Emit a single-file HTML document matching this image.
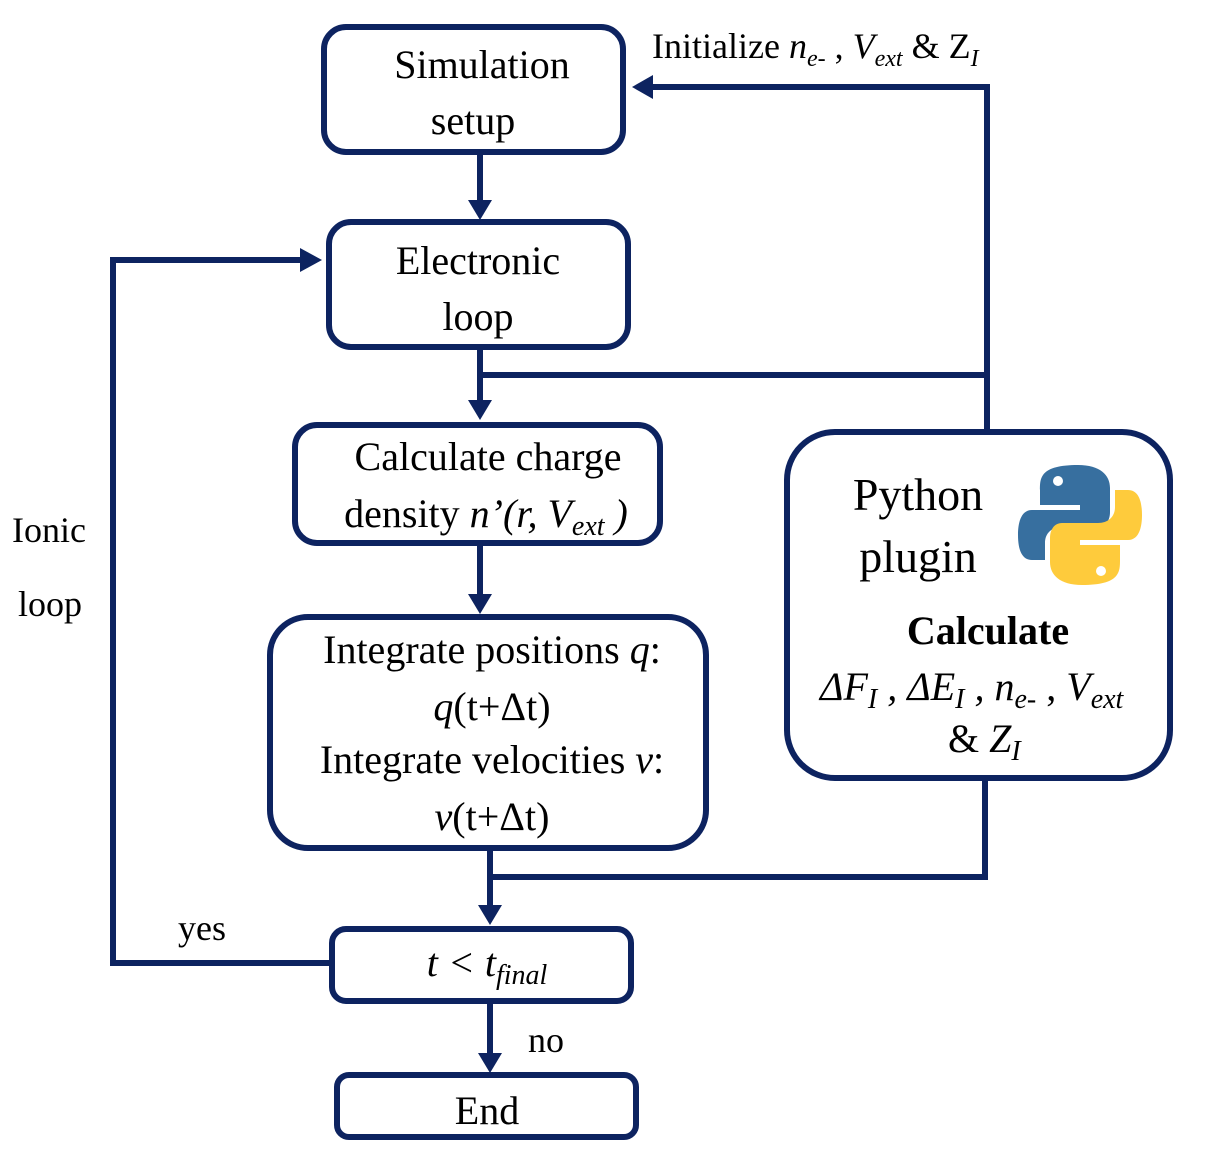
<!DOCTYPE html>
<html><head><style>
html,body{margin:0;padding:0;background:#fff;}
svg{display:block;}
svg text{font-family:'Liberation Serif','Times New Roman',Times,serif;fill:#000;}
</style></head><body>
<svg width="1210" height="1170" viewBox="0 0 1210 1170" xmlns="http://www.w3.org/2000/svg" font-family="Liberation Serif, Times New Roman, serif">
<g fill="none" stroke="#0d2360" stroke-width="6">
<rect x="324" y="27" width="299" height="125" rx="22"/>
<rect x="329" y="222" width="299" height="125" rx="22"/>
<rect x="295" y="425" width="365" height="118" rx="22"/>
<rect x="270" y="617" width="436" height="231" rx="38"/>
<rect x="332" y="929" width="299" height="72" rx="14"/>
<rect x="337" y="1075" width="299" height="62" rx="12"/>
<rect x="787" y="432" width="383" height="346" rx="48"/>
<polyline points="480,153 480,205"/>
<polyline points="480,348 480,405"/>
<polyline points="480,375 987,375"/>
<polyline points="987,430 987,87 650,87"/>
<polyline points="480,545 480,598"/>
<polyline points="490,850 490,910"/>
<polyline points="490,877 985,877 985,780"/>
<polyline points="330,963 113,963 113,260 305,260"/>
<polyline points="490,1002 490,1058"/>
</g>
<g fill="#0d2360">
<polygon points="468,200 492,200 480,220"/>
<polygon points="468,400 492,400 480,420"/>
<polygon points="468,594 492,594 480,614"/>
<polygon points="478,905 502,905 490,925"/>
<polygon points="478,1053 502,1053 490,1073"/>
<polygon points="300,248 300,272 322,260"/>
<polygon points="653,75 653,99 632,87"/>
</g>
<g font-size="40" text-anchor="middle">
<text x="482" y="78">Simulation</text>
<text x="473" y="134">setup</text>
<text x="478" y="274">Electronic</text>
<text x="478" y="330">loop</text>
<text x="488" y="470">Calculate charge</text>
<text x="486" y="527">density <tspan font-style="italic">n’(r, V</tspan><tspan font-style="italic" font-size="28" dy="8">ext</tspan><tspan dy="-8" font-style="italic"> )</tspan></text>
<text x="492" y="663">Integrate positions <tspan font-style="italic">q</tspan>:</text>
<text x="492" y="720"><tspan font-style="italic">q</tspan>(t+Δt)</text>
<text x="492" y="773">Integrate velocities <tspan font-style="italic">v</tspan>:</text>
<text x="492" y="830"><tspan font-style="italic">v</tspan>(t+Δt)</text>
<text x="487" y="976"><tspan font-style="italic">t &lt; t</tspan><tspan font-style="italic" font-size="28" dy="8">final</tspan></text>
<text x="487" y="1124">End</text>
<text x="918" y="510" font-size="46">Python</text>
<text x="918" y="572" font-size="46">plugin</text>
<text x="988" y="644" font-weight="bold">Calculate</text>
</g>
<text x="820" y="700" font-size="40" font-style="italic">ΔF<tspan font-size="28" dy="8">I</tspan><tspan dy="-8"> , ΔE</tspan><tspan font-size="28" dy="8">I</tspan><tspan dy="-8"> , n</tspan><tspan font-size="28" dy="8">e-</tspan><tspan dy="-8" font-style="normal"> , </tspan><tspan>V</tspan><tspan font-size="28" dy="8">ext</tspan></text>
<text x="948" y="752" font-size="40"><tspan>&amp; </tspan><tspan font-style="italic">Z</tspan><tspan font-style="italic" font-size="28" dy="8">I</tspan></text>
<text x="652" y="58" font-size="36">Initialize <tspan font-style="italic">n</tspan><tspan font-style="italic" font-size="24" dy="8">e-</tspan><tspan dy="-8"> , </tspan><tspan font-style="italic">V</tspan><tspan font-style="italic" font-size="24" dy="8">ext</tspan><tspan dy="-8"> &amp; Z</tspan><tspan font-style="italic" font-size="24" dy="8">I</tspan></text>
<text x="12" y="542" font-size="36">Ionic</text>
<text x="18" y="616" font-size="36">loop</text>
<text x="178" y="940" font-size="36">yes</text>
<text x="528" y="1052" font-size="36">no</text>
<g>
<path d="M1078,465 C1040,465 1040,478 1040,490 L1040,505 L1080,505 L1080,510 L1032,510 C1020,510 1018,525 1018,535 C1018,550 1022,560 1032,560 L1045,560 L1045,543 C1045,533 1052,527 1062,527 L1098,527 C1106,527 1110,520 1110,512 L1110,488 C1110,475 1100,465 1078,465 Z" fill="#376f9f"/>
<circle cx="1058" cy="481" r="5" fill="#fff"/>
<path d="M1082,585 C1120,585 1120,572 1120,560 L1120,545 L1080,545 L1080,540 L1128,540 C1140,540 1142,525 1142,515 C1142,500 1138,490 1128,490 L1115,490 L1115,507 C1115,517 1108,523 1098,523 L1062,523 C1054,523 1050,530 1050,538 L1050,562 C1050,575 1060,585 1082,585 Z" fill="#fecb3c"/>
<circle cx="1101" cy="571" r="5" fill="#fff"/>
</g>
</svg>
</body></html>
